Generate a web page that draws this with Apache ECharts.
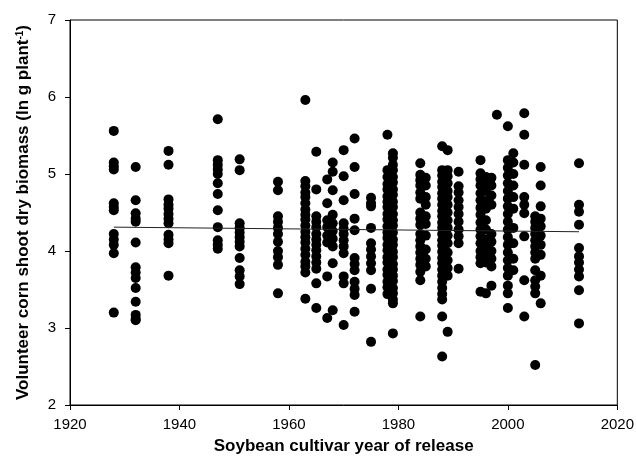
<!DOCTYPE html>
<html>
<head>
<meta charset="utf-8">
<script src="https://cdn.jsdelivr.net/npm/echarts@6/dist/echarts.min.js"></script>
<style>
  html, body { margin: 0; padding: 0; background: #fff; }
  #chart { width: 637px; height: 466px; }
</style>
</head>
<body>
<div id="chart"></div>
<script>
// ln biomass values, one array per release year
const v1928 = [5.56, 5.15, 5.10, 5.06, 4.62, 4.57, 4.53, 4.22, 4.15, 4.08, 3.97, 3.20];
const v1932 = [5.09, 4.66, 4.49, 4.42, 4.38, 4.11, 3.79, 3.72, 3.65, 3.52, 3.34, 3.17, 3.12, 3.10];
const v1938 = [5.30, 5.12, 4.67, 4.60, 4.55, 4.48, 4.42, 4.36, 4.21, 4.15, 4.10, 3.68];
const v1947 = [5.71, 5.18, 5.12, 5.06, 5.00, 4.88, 4.74, 4.53, 4.31, 4.14, 4.08, 4.03];
const v1951 = [5.19, 5.05, 4.36, 4.30, 4.24, 4.18, 4.12, 4.06, 3.91, 3.75, 3.67, 3.57];
const v1958 = [4.90, 4.79, 4.45, 4.38, 4.30, 4.22, 4.12, 4.00, 3.92, 3.82, 3.45];
const v1963 = [5.96, 4.91, 4.84, 4.76, 4.70, 4.62, 4.54, 4.47, 4.41, 4.33, 4.25, 4.18, 4.11, 4.03, 3.95, 3.86, 3.80, 3.72, 3.38];
const v1965 = [5.29, 4.80, 4.45, 4.38, 4.31, 4.22, 4.15, 4.08, 4.01, 3.93, 3.85, 3.77, 3.58, 3.26];
const v1967 = [4.93, 4.62, 4.40, 4.31, 4.20, 4.11, 3.67, 3.13];
const v1968 = [5.15, 5.03, 4.79, 4.47, 4.36, 4.26, 4.16, 4.06, 3.84, 3.23];
const v1970 = [5.31, 4.97, 4.66, 4.36, 4.29, 4.22, 4.14, 4.06, 3.97, 3.67, 3.58, 3.04];
const v1972 = [5.46, 5.09, 4.74, 4.42, 4.27, 3.91, 3.83, 3.75, 3.60, 3.51, 3.43, 3.21];
const v1975 = [4.69, 4.62, 4.58, 4.30, 4.10, 4.02, 3.93, 3.84, 3.75, 3.51, 2.82];
const v1978 = [5.51, 5.05, 4.96, 4.87, 4.80, 4.71, 4.64, 4.57, 4.48, 4.41, 4.32, 4.24, 4.17, 4.08, 4.01, 3.92, 3.85, 3.76, 3.69, 3.60, 3.53, 3.44];
const v1979 = [5.27, 5.21, 5.12, 5.05, 4.96, 4.89, 4.80, 4.73, 4.64, 4.57, 4.48, 4.40, 4.33, 4.24, 4.15, 4.08, 3.99, 3.92, 3.83, 3.76, 3.68, 3.61, 3.52, 3.45, 3.37, 3.32, 2.93];
const v1984 = [5.14, 4.99, 4.92, 4.85, 4.76, 4.68, 4.50, 4.42, 4.34, 4.22, 4.14, 4.06, 3.98, 3.90, 3.82, 3.73, 3.62, 3.15];
const v1985 = [4.95, 4.85, 4.70, 4.60, 4.45, 4.35, 4.20, 4.02, 3.90, 3.80];
const v1988 = [5.36, 5.05, 4.98, 4.90, 4.83, 4.75, 4.68, 4.60, 4.52, 4.45, 4.37, 4.30, 4.22, 4.14, 4.07, 3.99, 3.91, 3.84, 3.76, 3.68, 3.60, 3.52, 3.44, 3.37, 3.15, 2.63];
const v1989 = [5.31, 5.05, 4.97, 4.88, 4.78, 4.70, 4.60, 4.50, 4.40, 4.30, 4.20, 4.10, 3.98, 3.88, 3.78, 3.68, 2.95];
const v1991 = [5.03, 4.84, 4.76, 4.66, 4.57, 4.48, 4.38, 4.28, 4.19, 4.10, 3.77];
const v1995 = [5.18, 5.01, 4.93, 4.85, 4.75, 4.66, 4.56, 4.47, 4.37, 4.28, 4.19, 4.10, 4.00, 3.92, 3.84, 3.47];
const v1996 = [4.96, 4.88, 4.78, 4.65, 4.55, 4.40, 4.28, 4.15, 4.05, 3.95, 3.85, 3.45];
const v1997 = [4.95, 4.85, 4.72, 4.60, 4.22, 4.12, 4.00, 3.90, 3.80, 3.55];
const v1998 = [5.77];
const v2000 = [5.62, 5.18, 5.08, 4.98, 4.88, 4.78, 4.68, 4.58, 4.48, 4.38, 4.28, 4.18, 4.08, 3.98, 3.88, 3.78, 3.68, 3.55, 3.45, 3.26];
const v2001 = [5.27, 5.15, 5.00, 4.85, 4.70, 4.55, 4.30, 4.10, 3.90, 3.75];
const v2003 = [5.79, 5.51, 5.12, 4.70, 4.60, 4.49, 4.19, 3.62, 3.15];
const v2005 = [4.45, 4.38, 4.30, 4.22, 4.14, 4.06, 3.98, 3.90, 3.75, 3.62, 3.54, 3.45, 2.52];
const v2006 = [5.09, 4.85, 4.58, 4.42, 4.32, 4.20, 4.08, 3.95, 3.68, 3.32];
const v2013 = [5.14, 4.60, 4.51, 4.34, 4.04, 3.93, 3.85, 3.76, 3.67, 3.49, 3.06];

const releaseYears = [1928, 1932, 1938, 1947, 1951, 1958, 1963, 1965, 1967, 1968, 1970, 1972, 1975,
  1978, 1979, 1984, 1985, 1988, 1989, 1991, 1995, 1996, 1997, 1998, 2000, 2001, 2003, 2005, 2006, 2013];
const yearValues = [v1928, v1932, v1938, v1947, v1951, v1958, v1963, v1965, v1967, v1968, v1970, v1972, v1975,
  v1978, v1979, v1984, v1985, v1988, v1989, v1991, v1995, v1996, v1997, v1998, v2000, v2001, v2003, v2005, v2006, v2013];

// regression line end points
const trendYears = [1928, 2013];
const trendValues = [4.31, 4.25];

const points = [];
releaseYears.forEach((yr, i) => {
  yearValues[i].forEach(v => points.push([yr, v]));
});

const chart = echarts.init(document.getElementById('chart'));
const font = 'Liberation Sans, Arial, sans-serif';

chart.setOption({
  animation: false,
  grid: {
    left: 70, right: 16, top: 20, bottom: 61,
    show: true, borderColor: '#000', borderWidth: 1
  },
  xAxis: {
    type: 'value',
    min: 1920, max: 2020, interval: 20,
    name: 'Soybean cultivar year of release',
    nameLocation: 'middle',
    nameGap: 33,
    nameMoveOverlap: false,
    nameTextStyle: { fontFamily: font, fontSize: 17, fontWeight: 'bold', color: '#000', verticalAlign: 'top' },
    axisLine: { lineStyle: { color: '#000' } },
    axisTick: { length: 5, lineStyle: { color: '#000' } },
    axisLabel: { margin: 12, fontFamily: font, fontSize: 15, color: '#000', formatter: v => String(v) },
    splitLine: { show: false }
  },
  yAxis: {
    type: 'value',
    min: 2, max: 7, interval: 1,
    name: '{a|Volunteer corn shoot dry biomass (ln g plant}{s|-1}{a|)}',
    nameLocation: 'middle',
    nameGap: 38,
    nameMoveOverlap: false,
    nameTextStyle: {
      fontFamily: font, color: '#000',
      rich: {
        a: { fontFamily: font, fontSize: 17, fontWeight: 'bold', color: '#000' },
        s: { fontFamily: font, fontSize: 10, fontWeight: 'bold', color: '#000', verticalAlign: 'top' }
      }
    },
    axisLine: { show: true, lineStyle: { color: '#000' } },
    axisTick: { show: true, length: 5, lineStyle: { color: '#000' } },
    axisLabel: { margin: 14, fontFamily: font, fontSize: 15, color: '#000' },
    splitLine: { show: false }
  },
  series: [
    {
      type: 'scatter',
      data: points,
      symbol: 'circle',
      symbolSize: 10,
      itemStyle: { color: '#000', opacity: 1 }
    },
    {
      type: 'line',
      data: trendYears.map((yr, i) => [yr, trendValues[i]]),
      showSymbol: false,
      lineStyle: { color: '#222', width: 1 },
      z: 3
    }
  ]
});
</script>
</body>
</html>
